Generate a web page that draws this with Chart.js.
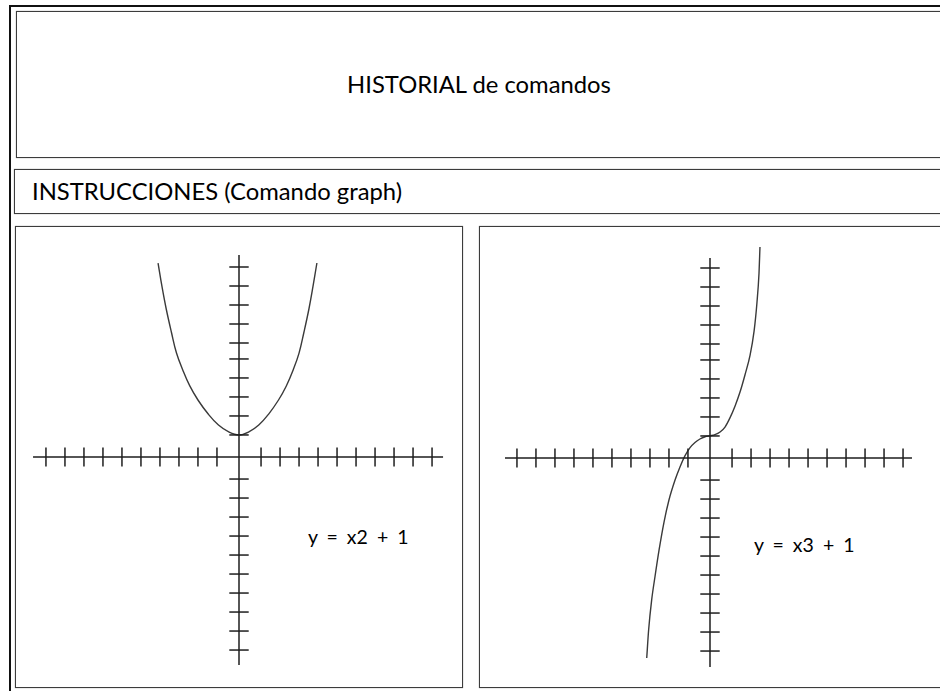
<!DOCTYPE html>
<html>
<head>
<meta charset="utf-8">
<script src="https://cdn.jsdelivr.net/npm/chart.js@4.4.1/dist/chart.umd.min.js"></script>
<style>
  html, body { margin: 0; padding: 0; background: #fff; }
  body { width: 940px; height: 691px; position: relative; overflow: hidden;
         font-family: Lato, "Open Sans", sans-serif; color: #000; }
  .frame { position: absolute; left: 9px; top: 5px; width: 960px; height: 720px;
           border-left: 2px solid #111; border-top: 2px solid #111; }
  .box { position: absolute; box-sizing: border-box; border: 1px solid #3c3c3c;
         box-shadow: 0 0 1px #8a8a8a; background: #fff; }
  .txt { position: absolute; white-space: pre; line-height: 1.2; }
  canvas { position: absolute; }
</style>
</head>
<body>
<div class="frame"></div>
<div class="box" style="left:16px;top:11px;width:960px;height:147px;"></div>
<div class="box" style="left:14px;top:169px;width:960px;height:45px;"></div>
<div class="box" style="left:15px;top:226px;width:448px;height:462px;"></div>
<div class="box" style="left:479px;top:226px;width:500px;height:462px;"></div>

<div class="txt" style="left:0;width:958px;text-align:center;top:70px;font-size:23.8px;">HISTORIAL de comandos</div>
<div class="txt" style="left:32px;top:176.5px;font-size:23.8px;">INSTRUCCIONES (Comando graph)</div>
<div class="txt" style="left:308px;top:525px;font-size:19.5px;word-spacing:4px;">y = x2 + 1</div>
<div class="txt" style="left:754px;top:533px;font-size:19.5px;word-spacing:4px;">y = x3 + 1</div>

<canvas id="plotA" width="446" height="459" style="left:16px;top:228px;"></canvas>
<canvas id="plotB" width="459" height="459" style="left:480px;top:228px;"></canvas>

<script>
// Tick marks along each axis, in grid units (one unit = one tick step)
const xTicks = [-10.16, -9.16, -8.16, -7.16, -6.16, -5.16, -4.16, -3.16, -2.16, -1.16,
                 1.16, 2.16, 3.16, 4.16, 5.16, 6.16, 7.16, 8.16, 9.16, 10.16];
const yTicksUp = [1.16, 2.16, 3.16, 4.16, 5.16, 6, 7, 8, 9, 10];
const yTicksDown = [-1.16, -2.16, -3.16, -4.16, -5.16, -6.16, -7.16, -8.16, -9.16, -10.16];

// Axis extents for each plot
const axisA = { xFrom: -10.84, xTo: 10.74, yFrom: -10.95, yTo: 10.63 };
const axisB = { xFrom: -10.79, xTo: 10.63, yFrom: -11.0, yTo: 10.53 };

// y = x2 + 1
const parabolaX = [-4.26, -4.05, -3.83, -3.56, -3.29, -2.96, -2.59, -2.16, -1.62, -1.08, -0.54, 0,
                    0.52, 1.04, 1.56, 2.08, 2.49, 2.85, 3.16, 3.42, 3.68, 3.89, 4.10];
const parabolaY = [10.21, 8.95, 7.79, 6.58, 5.47, 4.58, 3.74, 3.00, 2.26, 1.68, 1.32, 1.16,
                    1.32, 1.68, 2.26, 3.00, 3.74, 4.58, 5.47, 6.58, 7.79, 8.95, 10.21];

// y = x3 + 1
const cubicX = [-3.33, -3.23, -3.07, -2.89, -2.68, -2.42, -2.16, -1.84, -1.58, -1.32,
                -1.05, -0.79, -0.53, -0.26, 0, 0.26, 0.53, 0.79, 1.05, 1.32,
                 1.58, 1.84, 2.11, 2.32, 2.47, 2.58, 2.63];
const cubicY = [-10.53, -9.05, -7.47, -6.21, -4.84, -3.37, -2.21, -1.16, -0.47, 0.11,
                 0.55, 0.82, 1.00, 1.12, 1.17, 1.23, 1.37, 1.63, 2.11, 2.74,
                 3.47, 4.37, 5.42, 6.68, 8.16, 9.74, 11.11];

const PX_PER_UNIT = 19;
const AXIS_COLOR = '#1e1e1e';
const CURVE_COLOR = '#3a3a3a';

function pairs(xs, ys) { return xs.map((x, i) => ({ x: x, y: ys[i] })); }

function drawPlot(id, origin, axis, curveX, curveY, curveOpts) {
  const cv = document.getElementById(id);
  const w = cv.width, h = cv.height;
  const xMin = -origin.x / PX_PER_UNIT, xMax = (w - origin.x) / PX_PER_UNIT;
  const yMax = origin.y / PX_PER_UNIT, yMin = -(h - origin.y) / PX_PER_UNIT;

  const xTickPts = xTicks.map(v => ({ x: v, y: 0 }));
  const yTickPts = yTicksUp.concat(yTicksDown).map(v => ({ x: 0, y: v }));

  new Chart(cv, {
    type: 'scatter',
    data: {
      datasets: [
        { data: [{ x: axis.xFrom, y: 0 }, { x: axis.xTo, y: 0 }], showLine: true,
          borderColor: AXIS_COLOR, borderWidth: 1.5, pointRadius: 0 },
        { data: [{ x: 0, y: axis.yFrom }, { x: 0, y: axis.yTo }], showLine: true,
          borderColor: AXIS_COLOR, borderWidth: 1.5, pointRadius: 0 },
        { data: xTickPts, pointStyle: 'line', rotation: 90, pointRadius: 9.5,
          borderColor: AXIS_COLOR, borderWidth: 1.5 },
        { data: yTickPts, pointStyle: 'line', rotation: 0, pointRadius: 9.7,
          borderColor: AXIS_COLOR, borderWidth: 1.5 },
        Object.assign({ data: pairs(curveX, curveY), showLine: true, pointRadius: 0,
          borderColor: CURVE_COLOR, borderWidth: 1.4 }, curveOpts)
      ]
    },
    options: {
      responsive: false,
      animation: false,
      events: [],
      layout: { padding: 0, autoPadding: false },
      plugins: { legend: { display: false }, tooltip: { enabled: false } },
      scales: {
        x: { type: 'linear', min: xMin, max: xMax, display: false },
        y: { type: 'linear', min: yMin, max: yMax, display: false }
      }
    }
  });
}

drawPlot('plotA', { x: 223, y: 229 }, axisA, parabolaX, parabolaY, { tension: 0.4 });
drawPlot('plotB', { x: 230, y: 230 }, axisB, cubicX, cubicY, { cubicInterpolationMode: 'monotone' });
</script>
</body>
</html>
